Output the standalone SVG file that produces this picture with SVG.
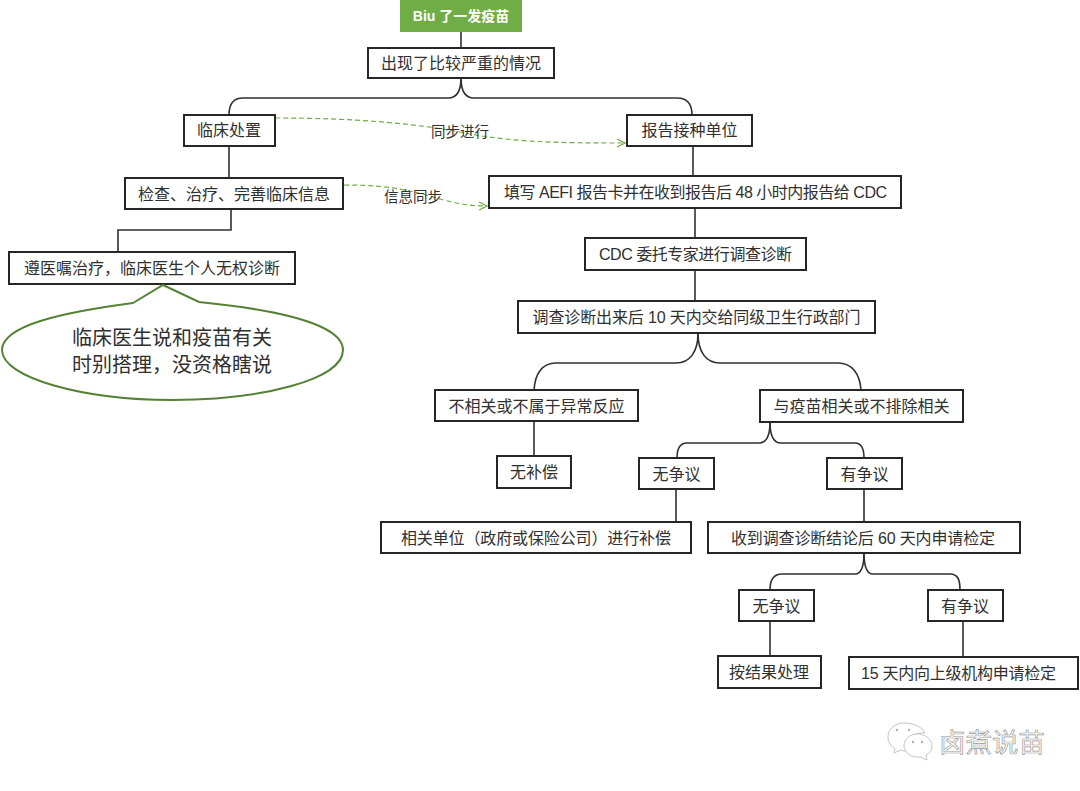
<svg xmlns="http://www.w3.org/2000/svg" width="1080" height="791" viewBox="0 0 1080 791">
  <style>
    text { font-family: "Liberation Sans", "Noto Sans CJK SC", sans-serif; font-size: 16px; fill: #303030; text-anchor: middle; }
    .box { fill: #ffffff; stroke: #262626; stroke-width: 2; }
    .link { fill: none; stroke: #303030; stroke-width: 1.6; }
    .sync { fill: none; stroke: #70ad47; stroke-width: 1.2; stroke-dasharray: 5 3; marker-end: url(#open); }
    .big { font-size: 20px; }
    .tag { font-size: 14.500px; }
    .mark { font-size: 26.500px; fill: #ffffff; stroke: #999999; stroke-width: 0.7; }
  </style>
  <defs>
    <marker id="open" markerWidth="10" markerHeight="10" refX="9" refY="5" orient="auto" markerUnits="userSpaceOnUse">
      <path d="M1 1 L9 5 L1 9" fill="none" stroke="#70ad47" stroke-width="1.2"/>
    </marker>
  </defs>
  <rect width="1080" height="791" fill="#ffffff"/>

  <g id="connectors">
    <path class="link" d="M461 32 V48"/>
    <path class="link" d="M461 78 C461 92 456 98 448 98 H243 C233 98 229 104 229 115"/>
    <path class="link" d="M461 78 C461 92 466 98 474 98 H677 C687 98 692 104 692 115"/>
    <path class="link" d="M229 146 V178"/>
    <path class="link" d="M693 146 V176"/>
    <path class="link" d="M231 209 V230 H118 V252"/>
    <path class="link" d="M695 208 V238"/>
    <path class="link" d="M695 270 V301"/>
    <path class="link" d="M698 333 C698 352 690 363 676 363 H556 C542 363 535 374 534 390"/>
    <path class="link" d="M698 333 C698 352 706 363 720 363 H838 C852 363 860 374 861 390"/>
    <path class="link" d="M534 421 V456"/>
    <path class="link" d="M770 422 C770 436 766 443 759 443 H687 C680 443 677 449 677 458"/>
    <path class="link" d="M770 422 C770 436 774 443 781 443 H855 C862 443 864 449 864 458"/>
    <path class="link" d="M676 489 V522"/>
    <path class="link" d="M864 489 V522"/>
    <path class="link" d="M864 553 C864 567 861 574 855 574 H782 C774 574 770 580 770 590"/>
    <path class="link" d="M864 553 C864 567 867 574 873 574 H950 C958 574 960 580 960 590"/>
    <path class="link" d="M770 622 V656"/>
    <path class="link" d="M963 621 V657"/>
    <path class="sync" d="M275 118 C360 118 420 124 470 134 C520 143 570 143 625 143"/>
    <path class="sync" d="M344 185 C395 185 415 192 440 199 C465 206 480 206 487 206"/>
  </g>
  <text class="tag" x="460" y="137">同步进行</text>
  <text class="tag" x="413" y="202">信息同步</text>

  <g id="n-start">
    <rect x="400" y="0" width="122" height="32" fill="#70ad47"/>
    <text x="461" y="21" style="fill:#ffffff;font-size:14px;font-weight:bold">Biu 了一发疫苗</text>
  </g>
  <g id="n-serious"><rect class="box" x="368" y="48" width="186" height="30"/><text x="461" y="68.500">出现了比较严重的情况</text></g>
  <g id="n-clinic"><rect class="box" x="184" y="115" width="91" height="31"/><text x="229" y="136">临床处置</text></g>
  <g id="n-report"><rect class="box" x="627" y="115" width="125" height="31"/><text x="689.500" y="136">报告接种单位</text></g>
  <g id="n-exam"><rect class="box" x="125" y="178" width="218" height="31"/><text x="234" y="199.500">检查、治疗、完善临床信息</text></g>
  <g id="n-aefi"><rect class="box" x="489" y="176" width="412" height="32"/><text x="695.500" y="197.500" textLength="383">填写 AEFI 报告卡并在收到报告后 48 小时内报告给 CDC</text></g>
  <g id="n-advice"><rect class="box" x="9" y="252" width="286" height="32"/><text x="152" y="273.500">遵医嘱治疗，临床医生个人无权诊断</text></g>
  <g id="n-cdc"><rect class="box" x="585" y="238" width="221" height="32"/><text x="695.500" y="259.500" textLength="193">CDC 委托专家进行调查诊断</text></g>
  <g id="n-result"><rect class="box" x="518" y="301" width="357" height="32"/><text x="696.500" y="322.500" textLength="328">调查诊断出来后 10 天内交给同级卫生行政部门</text></g>
  <g id="n-unrelated"><rect class="box" x="435" y="390" width="203" height="31"/><text x="536.500" y="411.500">不相关或不属于异常反应</text></g>
  <g id="n-related"><rect class="box" x="760" y="390" width="203" height="32"/><text x="861.500" y="411.500">与疫苗相关或不排除相关</text></g>
  <g id="n-nocomp"><rect class="box" x="497" y="456" width="74" height="32"/><text x="534" y="478">无补偿</text></g>
  <g id="n-agree1"><rect class="box" x="639" y="458" width="75" height="31"/><text x="676.500" y="480">无争议</text></g>
  <g id="n-dispute1"><rect class="box" x="827" y="458" width="75" height="31"/><text x="864.500" y="480">有争议</text></g>
  <g id="n-comp"><rect class="box" x="381" y="522" width="310" height="31"/><text x="536" y="543.500" textLength="270">相关单位（政府或保险公司）进行补偿</text></g>
  <g id="n-apply"><rect class="box" x="708" y="522" width="312" height="31"/><text x="863" y="543.500" textLength="264">收到调查诊断结论后 60 天内申请检定</text></g>
  <g id="n-agree2"><rect class="box" x="739" y="590" width="75" height="31"/><text x="776.500" y="611.500">无争议</text></g>
  <g id="n-dispute2"><rect class="box" x="928" y="590" width="75" height="31"/><text x="965" y="611.500">有争议</text></g>
  <g id="n-handle"><rect class="box" x="718" y="656" width="103" height="32"/><text x="769" y="678">按结果处理</text></g>
  <g id="n-upper"><rect class="box" x="849" y="657" width="229" height="32"/><text x="958.500" y="679" textLength="195">15 天内向上级机构申请检定</text></g>

  <g id="n-callout">
    <path d="M133 303 L163 285 L199 302 C280 310 343 325 343 350 C343 380 260 400 172 400 C84 400 2 378 2 350 C2 325 65 312 133 303 Z" fill="#ffffff" stroke="#548235" stroke-width="2"/>
    <text class="big" x="172" y="345">临床医生说和疫苗有关</text>
    <text class="big" x="172" y="372">时别搭理，没资格瞎说</text>
  </g>

  <!-- account badge, lower right -->
  <g id="badge">
    <path d="M904 723 C895 723 888 729 888 737 C888 742 891 746 895 749 L894 753 L901 750 C903 751 905 751 907 751 C905 740 912 732 925 733 C922 727 914 723 904 723 Z" fill="#ffffff" stroke="#c4c4c4" stroke-width="1"/>
    <path d="M917 734 C925 734 932 739 932 746 C932 750 930 753 926 755 L927 760 L921 757 C912 758 904 753 904 746 C904 739 910 734 917 734 Z" fill="#ffffff" stroke="#c4c4c4" stroke-width="1"/>
    <circle cx="897" cy="730" r="1.200" fill="#b0b0b0"/><circle cx="909" cy="730" r="1.200" fill="#b0b0b0"/>
    <circle cx="913" cy="742" r="1.200" fill="#b0b0b0"/><circle cx="922" cy="742" r="1.200" fill="#b0b0b0"/>
    <text class="mark" x="992" y="752">卤煮说苗</text>
  </g>
</svg>
